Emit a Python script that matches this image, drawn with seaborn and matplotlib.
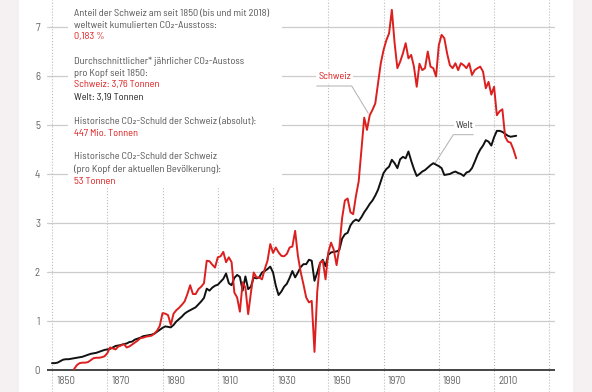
import matplotlib
matplotlib.use("Agg")
import matplotlib.pyplot as plt
from matplotlib.patches import Rectangle
import numpy as np
import pandas as pd
import seaborn as sns

# Pro-Kopf CO2-Ausstoss in Tonnen
welt_start = 1850
welt = [
    0.14, 0.14, 0.15, 0.18, 0.21, 0.22, 0.22, 0.23, 0.24, 0.25,  # 1850
    0.26, 0.27, 0.29, 0.31, 0.33, 0.34, 0.35, 0.37, 0.39, 0.41,  # 1860
    0.42, 0.43, 0.46, 0.49, 0.50, 0.51, 0.53, 0.54, 0.57, 0.58,  # 1870
    0.62, 0.64, 0.66, 0.69, 0.70, 0.71, 0.72, 0.74, 0.78, 0.82,  # 1880
    0.86, 0.89, 0.88, 0.87, 0.92, 0.99, 1.04, 1.09, 1.15, 1.19,  # 1890
    1.22, 1.25, 1.28, 1.34, 1.40, 1.47, 1.66, 1.62, 1.68, 1.72,  # 1900
    1.74, 1.80, 1.86, 1.97, 1.77, 1.73, 1.88, 1.94, 1.90, 1.62,  # 1910
    1.91, 1.65, 1.70, 1.89, 1.87, 1.89, 1.99, 2.02, 2.06, 2.11,  # 1920
    1.99, 1.72, 1.53, 1.60, 1.70, 1.76, 1.88, 2.02, 1.89, 1.99,  # 1930
    2.10, 2.16, 2.16, 2.25, 2.23, 1.82, 1.99, 2.18, 2.25, 2.12,  # 1940
    2.35, 2.40, 2.41, 2.42, 2.45, 2.68, 2.77, 2.80, 2.95, 3.03,  # 1950
    3.07, 3.04, 3.12, 3.22, 3.30, 3.39, 3.46, 3.56, 3.68, 3.85,  # 1960
    4.02, 4.10, 4.15, 4.29, 4.22, 4.12, 4.30, 4.35, 4.32, 4.46,  # 1970
    4.27, 4.10, 3.96, 4.00, 4.05, 4.08, 4.13, 4.18, 4.22, 4.19,  # 1980
    4.16, 4.12, 3.98, 3.99, 4.00, 4.03, 4.05, 4.02, 4.00, 3.96,  # 1990
    4.03, 4.05, 4.12, 4.25, 4.39, 4.50, 4.58, 4.69, 4.66, 4.58,  # 2000
    4.75, 4.88, 4.88, 4.86, 4.82, 4.78, 4.76, 4.77, 4.78,        # 2010
]

schweiz_start = 1858
schweiz = [
    0.02, 0.10,                                                  # 1858
    0.14, 0.15, 0.15, 0.16, 0.20, 0.24, 0.25, 0.25, 0.26, 0.28,  # 1860
    0.34, 0.46, 0.44, 0.42, 0.48, 0.50, 0.53, 0.46, 0.48, 0.52,  # 1870
    0.56, 0.60, 0.65, 0.66, 0.68, 0.69, 0.70, 0.74, 0.80, 0.90,  # 1880
    1.16, 1.15, 1.12, 0.92, 1.15, 1.22, 1.27, 1.33, 1.40, 1.55,  # 1890
    1.73, 1.55, 1.55, 1.65, 1.70, 1.77, 2.23, 2.22, 2.15, 2.09,  # 1900
    2.30, 2.32, 2.41, 2.20, 2.30, 2.20, 1.58, 1.48, 1.19, 1.79,  # 1910
    1.68, 1.14, 1.58, 1.99, 1.89, 1.89, 1.85, 2.06, 2.23, 2.57,  # 1920
    2.39, 2.50, 2.40, 2.33, 2.32, 2.37, 2.50, 2.52, 2.84, 2.33,  # 1930
    2.00, 1.75, 1.48, 1.38, 1.41, 0.37, 1.60, 2.19, 2.23, 1.85,  # 1940
    2.40, 2.60, 2.45, 2.14, 2.50, 3.10, 3.46, 3.50, 3.22, 3.18,  # 1950
    3.55, 3.85, 4.50, 5.15, 4.90, 5.20, 5.31, 5.44, 5.85, 6.26,  # 1960
    6.53, 6.73, 6.87, 7.35, 6.67, 6.16, 6.29, 6.46, 6.67, 6.36,  # 1970
    6.43, 6.19, 5.78, 6.25, 6.12, 6.16, 6.50, 6.19, 6.16, 5.99,  # 1980
    6.63, 6.84, 6.77, 6.46, 6.22, 6.16, 6.26, 6.12, 6.26, 6.22,  # 1990
    6.16, 6.26, 6.02, 6.12, 6.16, 6.19, 6.09, 5.75, 5.88, 5.62,  # 2000
    5.78, 5.20, 5.28, 5.32, 4.76, 4.66, 4.64, 4.50, 4.32,        # 2010
]

y_ticks = [0, 1, 2, 3, 4, 5, 6, 7]
x_grid = list(range(1850, 2031, 20))
x_labels = list(range(1850, 2011, 20))

RED = "#dc1f1f"
BLACK = "#111111"
GREY = "#555555"
FS = 7.4

df = pd.concat([
    pd.DataFrame({"jahr": np.arange(welt_start, welt_start + len(welt)),
                  "wert": welt, "serie": "Welt"}),
    pd.DataFrame({"jahr": np.arange(schweiz_start, schweiz_start + len(schweiz)),
                  "wert": schweiz, "serie": "Schweiz"}),
])

sns.set_theme(style="white")
plt.rcParams["font.family"] = ["Barlow Semi Condensed", "DejaVu Sans"]

fig = plt.figure(figsize=(5.92, 3.92), dpi=100, facecolor="#f5f1f2")
# weisse Mittelflaeche, seitlich heller Rand
bg = fig.add_axes([19 / 592, 0, 554 / 592, 1], zorder=-1)
bg.set_axis_off()
bg.add_patch(Rectangle((0, 0), 1, 1, transform=bg.transAxes,
                       facecolor="white", edgecolor="none"))

ax = fig.add_axes([47 / 592, 0, 508 / 592, 1])
ax.set_facecolor("none")

# px -> Daten: 1850 bei x=52, 2.763 px/Jahr; 0 bei y=370, 49 px/Tonne
ax.set_xlim(1850 - 5 / 2.763, 1850 + 503 / 2.763)
ax.set_ylim(-22 / 49, 370 / 49)

for v in y_ticks[1:]:
    ax.axhline(v, color="#cccccc", lw=0.9, zorder=0)
for yr in x_grid:
    ax.axvline(yr, color="#bbbbbb", lw=0.8, ls=":", zorder=0)
ax.axhline(0, color="#444444", lw=1.4, zorder=1)

# weisser Hintergrund fuer den Textblock
ax.add_patch(Rectangle((21 / 508, 1 - 188 / 392), 214 / 508, 188 / 392,
                       transform=ax.transAxes, facecolor="white",
                       edgecolor="none", zorder=1))

sns.lineplot(data=df, x="jahr", y="wert", hue="serie",
             palette={"Welt": BLACK, "Schweiz": RED}, hue_order=["Welt", "Schweiz"],
             linewidth=1.4, legend=False, ax=ax, zorder=3)

ax.set_xlabel("")
ax.set_ylabel("")
ax.set_xticks([])
ax.set_yticks(y_ticks)
ax.set_yticklabels([str(v) for v in y_ticks])
ax.tick_params(axis="y", length=0, pad=5, labelsize=FS + 0.4, labelcolor="#666666")
for s in ax.spines.values():
    s.set_visible(False)

for yr in x_labels:
    ax.text(yr + 1.5, -11 / 49, str(yr), ha="left", va="center",
            fontsize=FS + 0.4, color="#666666")

lines = [
    (13.3, "Anteil der Schweiz am seit 1850 (bis und mit 2018)", GREY),
    (25.5, "weltweit kumulierten CO₂-Ausstoss:", GREY),
    (37.0, "0,183 %", RED),
    (61.7, "Durchschnittlicher* jährlicher CO₂-Austoss", GREY),
    (73.3, "pro Kopf seit 1850:", GREY),
    (85.0, "Schweiz: 3,76 Tonnen", RED),
    (97.5, "Welt: 3,19 Tonnen", "#222222"),
    (121.7, "Historische CO₂-Schuld der Schweiz (absolut):", GREY),
    (133.3, "447 Mio. Tonnen", RED),
    (156.7, "Historische CO₂-Schuld der Schweiz", GREY),
    (169.0, "(pro Kopf der aktuellen Bevölkerung):", GREY),
    (181.0, "53 Tonnen", RED),
]
for ypx, txt, col in lines:
    ax.text(27 / 508, 1 - ypx / 392, txt, transform=ax.transAxes, ha="left",
            va="center", fontsize=FS, color=col, zorder=4)

# Beschriftungen mit Hinweislinien
def px(x, y):
    return 1850 + (x - 52) / 2.763, (370 - y) / 49

sx, sy = zip(px(316.7, 86), px(351.7, 86), px(368.3, 113.3))
ax.plot(sx, sy, color="#b0b0b0", lw=0.7, zorder=2)
wx, wy = zip(px(473.3, 134.7), px(453.3, 134.7), px(435, 163.3))
ax.plot(wx, wy, color="#b0b0b0", lw=0.7, zorder=2)

tx, ty = px(334.5, 76.7)
ax.text(tx, ty, "Schweiz", ha="center", va="center", fontsize=FS, color=RED,
        zorder=4, bbox=dict(facecolor="white", edgecolor="none", pad=1.5))
tx, ty = px(464.5, 125)
ax.text(tx, ty, "Welt", ha="center", va="center", fontsize=FS, color="#333333",
        zorder=4, bbox=dict(facecolor="white", edgecolor="none", pad=1.5))

fig.savefig("out.png", dpi=100, facecolor=fig.get_facecolor())
